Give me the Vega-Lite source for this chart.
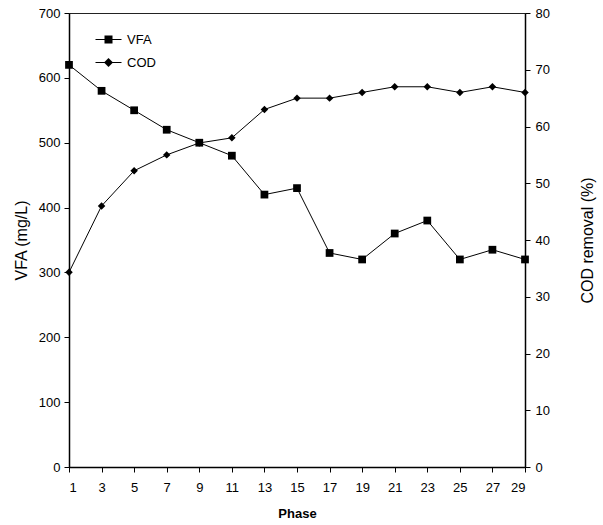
{
  "$schema": "https://vega.github.io/schema/vega-lite/v6.json",
  "width": 456,
  "height": 454,
  "autosize": {"type": "none"},
  "padding": {"left": 69, "top": 13, "right": 78, "bottom": 58},
  "background": "white",
  "config": {
    "font": "Liberation Sans",
    "view": {"stroke": "#222", "strokeWidth": 1},
    "axis": {
      "grid": false,
      "domainColor": "black",
      "domainWidth": 1.5,
      "tickColor": "black",
      "tickSize": 5,
      "labelColor": "black",
      "labelFontSize": 13,
      "titleColor": "black",
      "titleFontSize": 16,
      "titleFontWeight": "normal"
    },
    "legend": {
      "title": null,
      "orient": "none",
      "legendX": 33,
      "legendY": 20,
      "padding": 0,
      "symbolSize": 100,
      "symbolFillColor": "black",
      "symbolOpacity": 1,
      "labelFontSize": 13,
      "labelColor": "black",
      "labelOffset": 12,
      "rowPadding": 8
    }
  },
  "data": {
    "values": [
      {"phase": 1, "series": "VFA", "value": 620},
      {"phase": 3, "series": "VFA", "value": 580},
      {"phase": 5, "series": "VFA", "value": 550},
      {"phase": 7, "series": "VFA", "value": 520},
      {"phase": 9, "series": "VFA", "value": 500},
      {"phase": 11, "series": "VFA", "value": 480},
      {"phase": 13, "series": "VFA", "value": 420},
      {"phase": 15, "series": "VFA", "value": 430},
      {"phase": 17, "series": "VFA", "value": 330},
      {"phase": 19, "series": "VFA", "value": 320},
      {"phase": 21, "series": "VFA", "value": 360},
      {"phase": 23, "series": "VFA", "value": 380},
      {"phase": 25, "series": "VFA", "value": 320},
      {"phase": 27, "series": "VFA", "value": 335},
      {"phase": 29, "series": "VFA", "value": 320},
      {"phase": 1, "series": "COD", "value": 34.3},
      {"phase": 3, "series": "COD", "value": 46},
      {"phase": 5, "series": "COD", "value": 52.2},
      {"phase": 7, "series": "COD", "value": 55},
      {"phase": 9, "series": "COD", "value": 57.1},
      {"phase": 11, "series": "COD", "value": 58},
      {"phase": 13, "series": "COD", "value": 63},
      {"phase": 15, "series": "COD", "value": 65},
      {"phase": 17, "series": "COD", "value": 65},
      {"phase": 19, "series": "COD", "value": 66},
      {"phase": 21, "series": "COD", "value": 67},
      {"phase": 23, "series": "COD", "value": 67},
      {"phase": 25, "series": "COD", "value": 66},
      {"phase": 27, "series": "COD", "value": 67},
      {"phase": 29, "series": "COD", "value": 66}
    ]
  },
  "encoding": {
    "x": {
      "field": "phase",
      "type": "quantitative",
      "scale": {"domain": [1, 29], "nice": false, "zero": false},
      "axis": {
        "values": [1, 3, 5, 7, 9, 11, 13, 15, 17, 19, 21, 23, 25, 27, 29],
        "title": "Phase",
        "titleFontWeight": "bold",
        "titleFontSize": 13,
        "labelPadding": 9,
        "titlePadding": 13
      }
    }
  },
  "layer": [
    {
      "transform": [{"filter": "datum.series === 'VFA'"}],
      "encoding": {
        "y": {
          "field": "value",
          "type": "quantitative",
          "scale": {"domain": [0, 700], "nice": false},
          "axis": {
            "orient": "left",
            "values": [0, 100, 200, 300, 400, 500, 600, 700],
            "title": "VFA (mg/L)",
            "labelPadding": 4,
            "titlePadding": 9
          }
        }
      },
      "layer": [
        {"mark": {"type": "line", "color": "black", "strokeWidth": 1}},
        {"mark": {"type": "point", "shape": "square", "filled": true, "color": "black", "opacity": 1, "size": 60}}
      ]
    },
    {
      "transform": [{"filter": "datum.series === 'COD'"}],
      "encoding": {
        "y": {
          "field": "value",
          "type": "quantitative",
          "scale": {"domain": [0, 80], "nice": false},
          "axis": {
            "orient": "right",
            "values": [0, 10, 20, 30, 40, 50, 60, 70, 80],
            "title": "COD removal (%)",
            "titleAngle": 270,
            "labelPadding": 5,
            "titlePadding": 46
          }
        }
      },
      "layer": [
        {"mark": {"type": "line", "color": "black", "strokeWidth": 1}},
        {"mark": {"type": "point", "shape": "diamond", "filled": true, "color": "black", "opacity": 1, "size": 56}}
      ]
    },
    {
      "transform": [{"filter": "datum.phase < 0"}],
      "mark": {"type": "point", "filled": true, "color": "black", "opacity": 1},
      "encoding": {
        "shape": {
          "field": "series",
          "type": "nominal",
          "scale": {
            "domain": ["VFA", "COD"],
            "range": [
              "M-2.6,-0.1H-0.8V-0.8H0.8V-0.1H2.6V0.1H0.8V0.8H-0.8V0.1H-2.6Z",
              "M-2.6,-0.1H-0.8L0,-0.9L0.8,-0.1H2.6V0.1H0.8L0,0.9L-0.8,0.1H-2.6Z"
            ]
          },
          "legend": {}
        }
      }
    }
  ],
  "resolve": {"scale": {"y": "independent"}}
}
